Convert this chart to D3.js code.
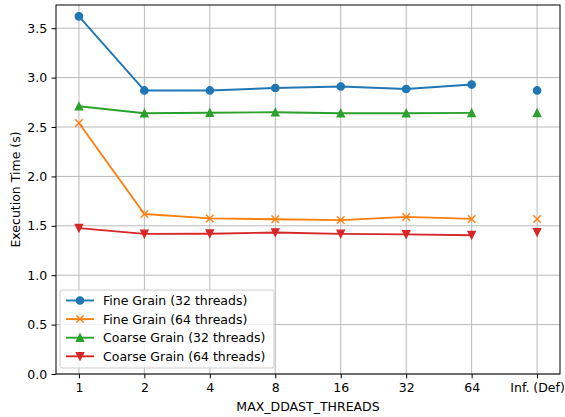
<!DOCTYPE html>
<html>
<head>
<meta charset="utf-8">
<script src="https://cdn.jsdelivr.net/npm/d3@7"></script>
<style>
  body { margin: 0; background: #fff; }
  svg { display: block; font-family: "DejaVu Sans", sans-serif; }
</style>
</head>
<body>
<div class="chart"></div>
<script>
var threads = ['1', '2', '4', '8', '16', '32', '64', 'Inf. (Def)'];
var yTicks = [0.0, 0.5, 1.0, 1.5, 2.0, 2.5, 3.0, 3.5];

// last value of each series is the default (Inf.) run, drawn as a lone marker
var fine32   = [3.62, 2.87, 2.87, 2.895, 2.91, 2.885, 2.93, 2.87];
var fine64   = [2.54, 1.62, 1.575, 1.567, 1.558, 1.59, 1.57, 1.57];
var coarse32 = [2.71, 2.64, 2.645, 2.65, 2.64, 2.64, 2.643, 2.643];
var coarse64 = [1.476, 1.418, 1.42, 1.432, 1.418, 1.413, 1.405, 1.435];

var seriesNames = ['Fine Grain (32 threads)', 'Fine Grain (64 threads)',
                   'Coarse Grain (32 threads)', 'Coarse Grain (64 threads)'];

var series = [
  {name: seriesNames[0], values: fine32,   color: '#1f77b4', marker: 'circle'},
  {name: seriesNames[1], values: fine64,   color: '#ff7f0e', marker: 'x'},
  {name: seriesNames[2], values: coarse32, color: '#2ca02c', marker: 'up'},
  {name: seriesNames[3], values: coarse64, color: '#d62728', marker: 'down'}
];

const W = 565, H = 417;
const margin = {top: 5, right: 5, bottom: 43, left: 56};
const width = W - margin.left - margin.right;
const height = H - margin.top - margin.bottom;
const fs = 12.5;

var svg = d3.select('.chart')
  .append('svg')
    .attr('width', W)
    .attr('height', H)
  .append('g')
    .attr('transform', `translate(${margin.left}, ${margin.top})`);

var xScale = d3.scalePoint()
  .domain(threads)
  .range([0, width])
  .padding(0.35);

var yScale = d3.scaleLinear()
  .domain([0, 3.735])
  .range([height, 0]);

// grid
svg.append('g')
  .selectAll('line')
  .data(yTicks)
  .join('line')
    .attr('x1', 0).attr('x2', width)
    .attr('y1', d => yScale(d)).attr('y2', d => yScale(d))
    .attr('stroke', '#b8b8b8')
    .attr('stroke-width', 1);
svg.append('g')
  .selectAll('line')
  .data(threads)
  .join('line')
    .attr('x1', d => xScale(d)).attr('x2', d => xScale(d))
    .attr('y1', 0).attr('y2', height)
    .attr('stroke', '#b8b8b8')
    .attr('stroke-width', 1);

// axes
var xAxis = svg.append('g')
  .attr('transform', `translate(0, ${height})`)
  .call(d3.axisBottom(xScale).tickSize(4.4).tickPadding(4.4).tickSizeOuter(0));
var yAxis = svg.append('g')
  .call(d3.axisLeft(yScale).tickValues(yTicks).tickFormat(d3.format('.1f'))
        .tickSize(4.4).tickPadding(4.4).tickSizeOuter(0));
[xAxis, yAxis].forEach(a => {
  a.select('.domain').remove();
  a.selectAll('text').attr('font-size', fs).attr('fill', '#000')
    .attr('font-family', '"DejaVu Sans", sans-serif');
  a.selectAll('line').attr('stroke', '#000').attr('stroke-width', 1);
});

// frame
svg.append('rect')
  .attr('x', 0).attr('y', 0)
  .attr('width', width).attr('height', height)
  .attr('fill', 'none')
  .attr('stroke', '#000')
  .attr('stroke-width', 1);

// axis labels
svg.append('text')
  .attr('x', width / 2)
  .attr('y', 406)
  .attr('text-anchor', 'middle')
  .attr('font-size', fs)
  .text('MAX_DDAST_THREADS');
svg.append('text')
  .attr('transform', `translate(${20 - margin.left}, ${height / 2}) rotate(-90)`)
  .attr('text-anchor', 'middle')
  .attr('font-size', fs)
  .text('Execution Time (s)');

function drawMarker(g, type, color) {
  var s = 7.5;
  if (type === 'circle') {
    g.append('circle').attr('r', s / 2)
      .attr('fill', color).attr('stroke', color).attr('stroke-width', 1.2);
  } else if (type === 'x') {
    g.append('path')
      .attr('d', `M${-s/2},${-s/2}L${s/2},${s/2}M${-s/2},${s/2}L${s/2},${-s/2}`)
      .attr('stroke', color).attr('stroke-width', 1.4).attr('fill', 'none');
  } else {
    var dir = type === 'up' ? 1 : -1;
    g.append('path')
      .attr('d', `M0,${-dir*s/2}L${-s/2},${dir*s/2}L${s/2},${dir*s/2}Z`)
      .attr('fill', color).attr('stroke', color).attr('stroke-width', 1.2)
      .attr('stroke-linejoin', 'miter');
  }
}

var line = d3.line()
  .x((d, i) => xScale(threads[i]))
  .y(d => yScale(d));

series.forEach(s => {
  var connected = s.values.slice(0, threads.length - 1);
  svg.append('path')
    .datum(connected)
    .attr('d', line)
    .attr('fill', 'none')
    .attr('stroke', s.color)
    .attr('stroke-width', 1.9)
    .attr('stroke-linejoin', 'round');
  s.values.forEach((v, i) => {
    var g = svg.append('g')
      .attr('transform', `translate(${xScale(threads[i])}, ${yScale(v)})`);
    drawMarker(g, s.marker, s.color);
  });
});

// legend
var leg = svg.append('g').attr('transform', `translate(${60 - margin.left}, ${290 - margin.top})`);
leg.append('rect')
  .attr('width', 214).attr('height', 78)
  .attr('rx', 2.5)
  .attr('fill', 'rgba(255,255,255,0.8)')
  .attr('stroke', '#cccccc')
  .attr('stroke-width', 1);
series.forEach((s, i) => {
  var y = 10.5 + i * 18.6;
  leg.append('line')
    .attr('x1', 6).attr('x2', 34)
    .attr('y1', y).attr('y2', y)
    .attr('stroke', s.color).attr('stroke-width', 1.9);
  drawMarker(leg.append('g').attr('transform', `translate(20, ${y})`), s.marker, s.color);
  leg.append('text')
    .attr('x', 43).attr('y', y)
    .attr('dy', '0.36em')
    .attr('font-size', fs)
    .text(s.name);
});
</script>
</body>
</html>
